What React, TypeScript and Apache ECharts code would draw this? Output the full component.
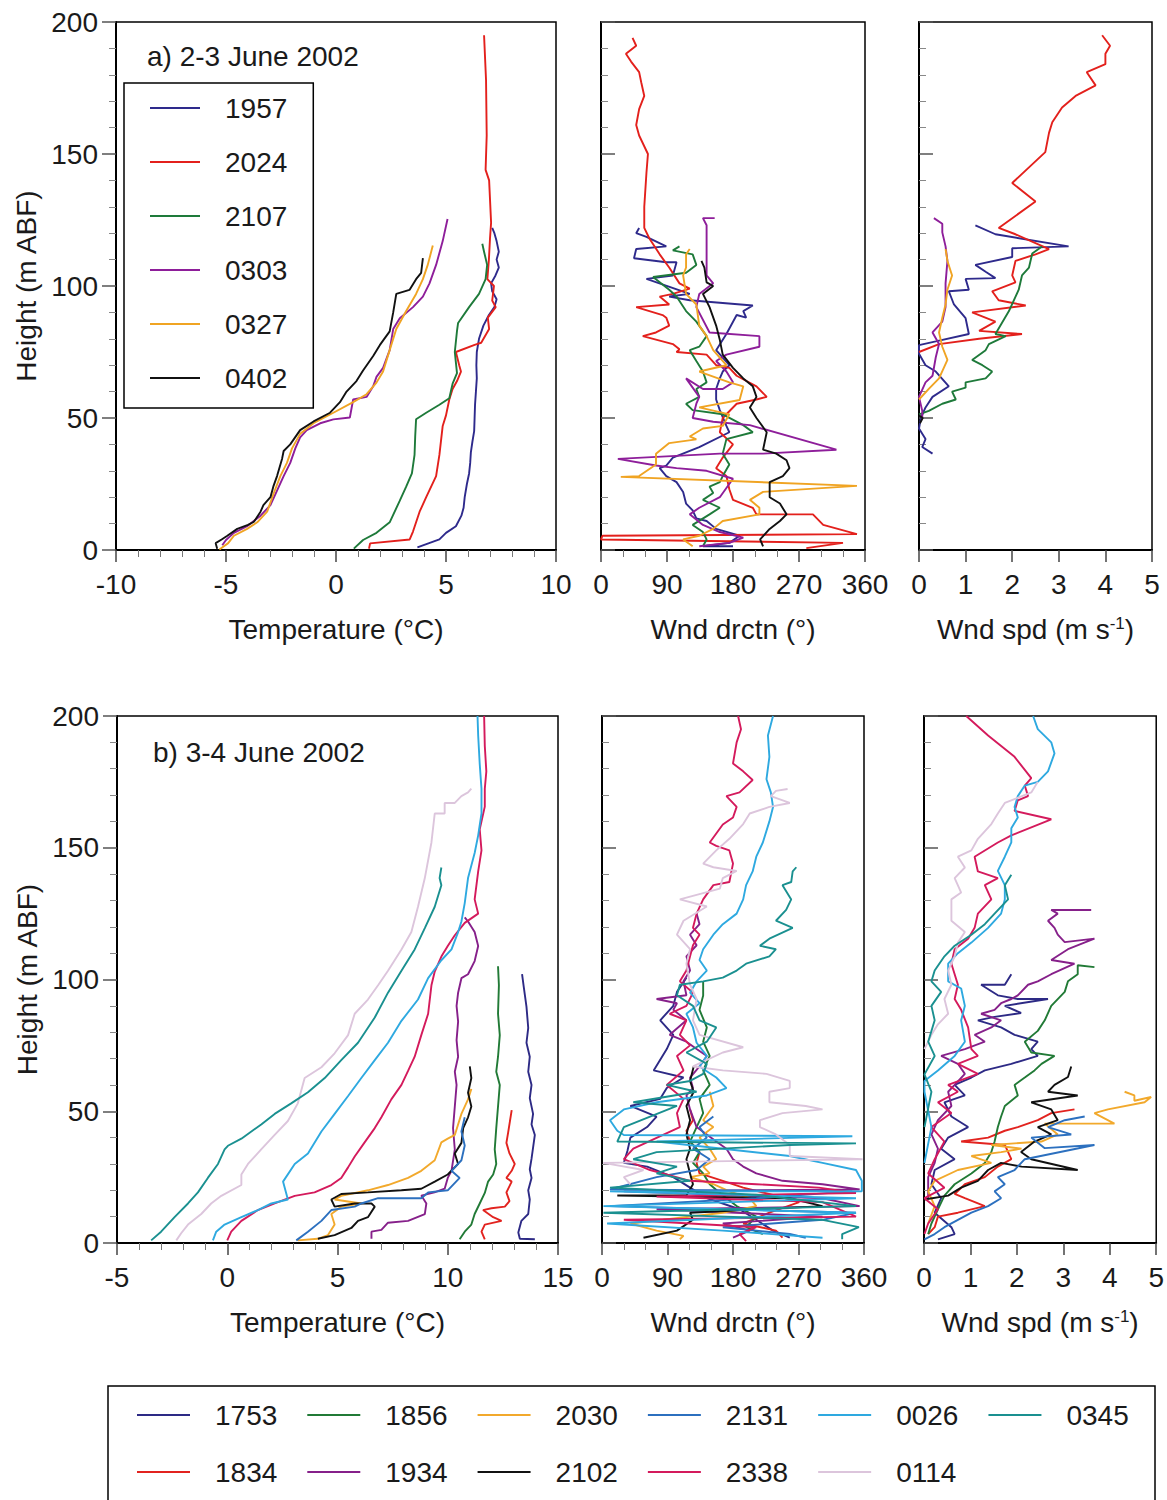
import React, { useEffect, useRef } from "react";
import * as echarts from "echarts";

// ===== a) 2-3 June 2002 : temperature [°C, height m ABF]
const A_TEMP_1957 = [[3.7,1],[4.2,2.5],[4.7,4],[5.0,6.5],[5.45,9],[5.7,13],[5.8,16],[5.85,20],[5.95,25],[6.05,29],[6.1,33],[6.13,37],[6.2,41],[6.28,45],[6.3,50],[6.32,55],[6.36,60],[6.4,65],[6.38,70],[6.4,75],[6.5,80],[6.7,85],[6.95,89],[7.2,92],[7.3,95],[7.1,98],[7.05,101],[7.25,104],[7.4,107],[7.3,110],[7.4,113],[7.3,117],[7.2,120],[7.1,122]];
const A_TEMP_2024 = [[1.5,0.5],[1.55,2.5],[3.35,4],[3.5,7],[3.8,14.5],[4.1,20],[4.55,28],[4.7,36],[4.85,47],[5.0,51],[5.15,57],[5.3,61],[5.5,64],[5.68,67.6],[5.6,70],[5.45,75],[6.3,77.7],[6.6,78.5],[6.96,83.7],[6.9,88],[7.26,92],[7.1,94.5],[7.18,100],[6.88,102.6],[6.95,110],[7.0,118],[7.05,124],[6.96,140],[6.8,144],[6.85,157],[6.82,178],[6.73,195]];
const A_TEMP_2107 = [[0.81,0.5],[1.23,3.8],[1.84,6.5],[2.44,10.5],[2.89,18.5],[3.19,24],[3.45,29],[3.57,36],[3.6,43],[3.64,49.5],[4.1,52],[4.7,55],[5.15,57.5],[5.3,63],[5.5,67],[5.45,71],[5.4,75],[5.5,83],[5.55,86],[6.05,92],[6.5,97],[6.8,102.6],[6.87,108],[6.73,113],[6.65,116]];
const A_TEMP_0303 = [[-5.17,1.8],[-5.0,3.8],[-4.64,6.5],[-4.04,9],[-3.43,13],[-2.98,17],[-2.68,22.5],[-2.38,28],[-2.08,33],[-1.85,38.5],[-1.63,42.7],[-1.33,45.4],[-0.72,48],[-0.12,49.5],[0.63,50.2],[0.78,57],[1.39,58],[1.69,62],[1.84,65.6],[2.14,69],[2.44,75.7],[2.6,83.7],[2.9,87.8],[3.5,92],[3.95,96],[4.25,101],[4.55,108],[4.85,117],[5.07,125.4]];
const A_TEMP_0327 = [[-5.3,0.2],[-4.9,2.6],[-4.64,5.4],[-4.04,8],[-3.58,10.5],[-3.13,14.5],[-2.83,21.5],[-2.53,28],[-2.23,33],[-2.0,38.5],[-1.63,44],[-1.02,48],[-0.12,52],[0.78,56],[1.39,59],[1.84,63.4],[2.14,67.6],[2.44,75.7],[2.74,83.7],[3.19,90.5],[3.64,97],[3.95,102.6],[4.17,108],[4.4,115.3]];
const A_TEMP_0402 = [[-5.4,0.5],[-5.47,2.6],[-5.2,4],[-4.94,5.4],[-4.49,8],[-4.0,9.5],[-3.73,10.7],[-3.43,14.5],[-3.3,17],[-2.98,20],[-2.85,24],[-2.68,28],[-2.45,34.6],[-2.38,37.5],[-2.08,40],[-1.63,45.4],[-1.02,48.7],[-0.27,52],[0.18,56],[0.48,60],[0.93,64],[1.23,68],[1.69,73.5],[1.99,77.6],[2.44,82.8],[2.6,90],[2.74,97],[3.34,98.5],[3.64,102.6],[3.87,105],[3.95,110.6]];

// ===== a) wind direction [°, height]
const A_DIR_1957 = [[52,122],[48,120],[62,118.6],[89,115],[48,114],[45,110.5],[89,109],[103,109],[98,104],[62,102.7],[121,97],[93,96],[121,94.6],[207,92.6],[194,90.5],[198,88],[185,89],[171,81.8],[157,75.7],[175,70],[166,67.6],[162,65],[157,61],[157,57],[162,53],[171,47],[175,44.6],[134,39],[98,35],[89,32],[80,31],[89,28],[103,25.7],[112,22],[116,17.6],[125,15],[130,12],[144,11],[157,8],[189,5.4],[175,2.7],[139,1.4],[180,1.4]];
const A_DIR_2024 = [[43,194],[48,191],[34,188],[41,185],[52,181],[55,177],[59,172],[52,167],[48,161],[52,157],[64,150],[62,143],[59,130],[59,122],[66,118],[80,112],[93,107],[107,101],[121,99],[98,97],[80,96],[93,93],[48,92],[84,89],[89,88],[93,85],[75,82.4],[57,81],[98,78],[107,76],[103,75],[144,74],[157,70],[175,69],[185,66],[212,62],[226,58],[212,57],[185,55.4],[166,50],[162,44.6],[180,40],[166,35],[157,31],[171,28],[175,23],[180,19],[207,16],[212,13.5],[289,13.5],[303,9.5],[349,6],[2,5.4],[0,4],[330,2.7],[280,0.7]];
const A_DIR_2107 = [[107,115],[98,113.5],[125,112],[130,108],[116,105],[71,103.4],[93,98.6],[103,96],[116,90.5],[130,86.5],[144,81],[134,77],[121,75.7],[130,71.6],[139,67.6],[144,63.5],[130,61],[134,58],[116,55.4],[125,53],[166,51.4],[194,47.3],[207,44.6],[171,42],[166,36.5],[175,32.4],[166,28],[162,25.7],[148,24],[153,21.6],[139,19],[162,16],[148,13.5],[125,9.5],[139,6.8],[144,4],[139,1.4]];
const A_DIR_0303 = [[155,125.7],[139,125.7],[144,123],[144,104],[153,101],[134,97],[130,92],[148,82.4],[216,81],[216,77],[171,74],[157,71.6],[171,67.6],[180,63.5],[166,61],[139,61],[116,65],[134,58],[130,55.4],[125,50],[153,48.6],[203,47.3],[321,38],[221,36.5],[162,36.5],[23,34.5],[75,32],[103,31],[144,30],[180,27],[162,20],[134,16],[121,13.5],[139,9.5],[162,6.8],[194,4.7],[175,2.7],[134,1.4]];
const A_DIR_0327 = [[121,114],[116,112],[116,107],[112,104],[116,97],[130,93],[134,85],[144,81],[153,75.7],[171,70],[134,67.6],[175,63.5],[194,62],[189,56.8],[134,54],[175,51.4],[166,47],[139,46],[121,43],[130,41.9],[93,40.5],[75,36.5],[75,32.4],[52,28],[27,27.7],[349,24.3],[221,22],[203,19],[216,16],[216,13.5],[166,11],[153,8],[134,5.4],[112,4],[125,1.4]];
const A_DIR_0402 = [[137,109.5],[141,107],[144,101.4],[153,100],[139,97],[148,92],[157,85],[162,79.6],[166,74],[180,69],[194,65],[207,62],[212,58],[203,54],[212,50],[226,44.6],[221,38],[239,36.5],[253,34],[257,31],[248,28],[230,25.7],[230,20],[244,17.6],[253,13.5],[244,11],[230,8],[217,4],[221,1.4]];

// ===== a) wind speed [m/s, height]
const A_SPD_1957 = [[1.21,123],[1.64,119.6],[3.21,115],[2.0,114.3],[2.0,111],[1.21,108],[1.43,105.4],[1.64,103],[1.0,102.7],[1.07,98.6],[0.64,98],[0.75,93],[1.0,87.8],[1.07,81.8],[0.36,79],[0,77.6],[0,74.3],[0.14,70],[0.36,67.6],[0.64,62],[0.29,58],[0.14,54],[0.04,50],[0,46],[0.14,42],[0.07,39],[0.29,36.5]];
const A_SPD_2024 = [[3.93,195],[4.1,191],[4.0,188],[4.0,184],[3.6,181],[3.79,176],[3.36,172],[3.07,167.6],[2.86,162],[2.79,158],[2.71,150.7],[2.0,139],[2.5,132],[1.71,122],[2.07,119.6],[2.79,114],[2.5,112],[2.07,109.5],[2.0,104],[2.07,101.4],[1.57,98],[1.71,94.6],[2.29,92.6],[1.14,90],[1.64,86.5],[1.29,83],[2.21,81.8],[1.29,80],[0.43,78],[0,75]];
const A_SPD_2107 = [[2.64,115],[2.43,112.3],[2.36,107],[2.21,104],[2.14,98.6],[1.93,90.5],[1.64,81.8],[1.86,81],[1.5,78],[1.43,75.7],[1.14,72],[1.36,70],[1.57,67.6],[1.43,65],[1.0,63.5],[1.0,61.5],[0.71,60],[0.79,57],[0.5,55.4],[0.21,52.7],[0,51.4]];
const A_SPD_0303 = [[0.32,125.7],[0.5,123.6],[0.5,120.3],[0.57,115],[0.61,109.5],[0.57,101],[0.57,92],[0.5,86.5],[0.29,82.4],[0.43,78],[0.36,73],[0.29,66],[0.14,63.5],[0,58],[0.07,52.7],[0.07,50]];
const A_SPD_0327 = [[0.57,114],[0.61,109.5],[0.71,104],[0.61,98.6],[0.57,93],[0.5,88],[0.43,82.4],[0.5,77],[0.61,72],[0.43,65],[0.21,61],[0,57]];
const A_SPD_0402 = [[0,51],[0.08,50],[0.02,48]];

// ===== b) 3-4 June 2002 : temperature
const B_TEMP_1753 = [[13.95,1.4],[13.27,1.6],[13.2,4],[13.34,8.4],[13.65,11],[13.72,16.5],[13.65,20],[13.8,24.7],[13.72,28],[13.8,32],[13.95,41],[13.8,45],[13.87,49],[13.72,55],[13.8,60],[13.65,65],[13.72,70.7],[13.57,76],[13.65,81.6],[13.57,89.7],[13.5,94],[13.45,97],[13.37,102]];
const B_TEMP_1834 = [[11.68,1.4],[11.53,4.3],[11.68,7],[12.44,8.4],[12.06,9.8],[11.6,12.5],[11.98,13.2],[12.59,13.8],[12.8,15.9],[12.66,19.2],[12.9,23.3],[12.66,24.7],[12.9,27.4],[13.04,30],[12.8,34],[12.66,38],[12.74,42],[12.9,50.4]];
const B_TEMP_1856 = [[10.54,1.4],[10.77,4.3],[11.07,7],[11.22,11],[11.45,15],[11.68,19],[11.83,23.3],[12.06,26],[12.2,30],[12.13,35.5],[12.2,43.6],[12.28,51.8],[12.36,60],[12.2,65],[12.28,70.7],[12.36,78.9],[12.28,87],[12.32,97.8],[12.28,105]];
const B_TEMP_1934 = [[6.54,1.6],[6.54,4.3],[6.99,5],[7.29,7.7],[8.2,8.4],[8.96,11],[9.03,15],[8.8,18],[9.4,19.2],[9.86,20.6],[10.0,24.7],[10.17,27.4],[10.32,35.5],[10.24,43.6],[10.32,51.8],[10.4,60],[10.32,65],[10.47,70.7],[10.4,77],[10.47,84],[10.4,90],[10.47,95],[10.62,100.5],[10.92,102],[11.22,107],[11.38,112.7],[11.22,118],[10.92,122],[10.77,123.6]];
const B_TEMP_2030 = [[3.2,1],[4.1,1.6],[4.57,3],[4.87,7],[4.72,11],[5.17,13.8],[6.08,15],[4.87,16.5],[5.17,17.9],[6.38,20],[7.29,22],[8.2,24.7],[8.8,27.4],[9.41,31.4],[9.71,38.2],[10.0,39.6],[10.32,41],[10.62,49],[10.92,54.5],[11.07,58.5]];
const B_TEMP_2102 = [[4.11,1.6],[4.87,3],[5.63,5.7],[5.93,8.4],[6.38,9.8],[6.69,13.8],[6.54,15],[5.78,15],[4.87,13.8],[4.72,16.5],[5.17,18.6],[6.38,19.2],[7.9,20],[8.8,20.6],[9.41,23.3],[10.0,26],[10.47,30],[10.32,34],[10.62,38],[10.7,43.6],[10.92,47.7],[11.07,51.8],[10.92,57],[11.07,62.6],[11.0,67]];
const B_TEMP_2131 = [[3.13,1],[3.66,4.3],[4.27,8.4],[4.72,12.5],[5.78,13.8],[6.08,15],[6.84,17],[8.8,17],[9.11,19.2],[10.0,20],[10.54,24.7],[10.17,27.4],[10.62,31.4],[10.77,37],[10.62,42.3],[10.77,47.7]];
const B_TEMP_2338 = [[0,1],[0.18,4.3],[0.64,8.4],[1.39,12.5],[2.15,15],[3.06,17.9],[3.96,19.2],[4.72,22],[5.17,24.7],[5.48,28.7],[5.78,32.8],[6.23,38.2],[6.69,43.6],[6.99,47.7],[7.44,54.5],[7.9,60],[8.2,65.3],[8.5,70.7],[8.8,78.9],[9.11,87],[9.26,97.8],[9.41,103],[9.71,108.7],[10.0,112.7],[10.32,116.8],[10.77,121.5],[11.38,125],[11.22,130.4],[11.38,141],[11.53,149],[11.45,157],[11.68,165.6],[11.68,172.4],[11.75,179],[11.68,188.6],[11.65,200]];
const B_TEMP_0026 = [[-0.65,1],[-0.5,4.3],[-0.12,7],[0.64,9.8],[1.39,12.5],[2.0,15],[2.75,16.5],[2.53,23.3],[3.06,30],[3.66,34],[4.27,42.3],[4.87,49],[5.48,55.8],[6.08,62.6],[6.69,69.4],[7.29,76],[7.9,84.3],[8.65,92.4],[9.11,100.5],[9.71,107.3],[10.17,111.4],[10.47,118],[10.62,122],[10.77,129],[10.92,138.5],[11.22,148],[11.38,154.7],[11.53,163],[11.53,172.4],[11.45,181.8],[11.38,192.6],[11.35,200]];
const B_TEMP_0114 = [[-2.31,1],[-2.09,3.7],[-1.78,7],[-1.18,11],[-0.73,15],[-0.27,17.9],[0.64,22],[0.64,26],[0.94,30],[1.54,35.5],[2.15,41],[2.75,46.3],[3.2,53],[3.51,62.6],[4.27,66.7],[4.87,72],[5.48,78.9],[5.78,87],[6.38,92.4],[6.84,97.8],[7.29,103.3],[7.9,111.4],[8.35,118],[8.65,127.6],[8.96,138.5],[9.26,152],[9.41,163],[9.86,163],[9.86,167],[10.32,167],[10.62,169.6],[10.92,171],[11.07,172.4]];
const B_TEMP_0345 = [[-3.45,1],[-3.0,4.3],[-2.39,9.8],[-1.78,15],[-1.33,19.2],[-0.88,24.7],[-0.42,30],[-0.12,35.5],[0.03,36.9],[0.64,39.6],[1.54,45],[2.15,49],[2.9,53],[3.66,57.2],[4.42,62.6],[5.17,69.4],[5.93,76],[6.69,85.6],[7.29,95],[7.9,103.3],[8.5,111.4],[8.96,119.5],[9.41,127.6],[9.71,135.8],[9.63,138.5],[9.71,142.5]];

// ===== b) wind direction
const B_DIR_1753 = [[116,100.7],[103,95.3],[98,90],[80,84.5],[98,79],[89,73.6],[71,65.5],[112,62.8],[89,58.8],[80,54.7],[39,52],[75,48],[62,44],[39,40],[35,35],[30,30.4],[62,29],[98,25],[121,21],[144,17],[189,12.8],[212,8.8],[235,4.7],[258,2]];
const B_DIR_1834 = [[121,50.7],[125,46.6],[116,42.6],[121,38.5],[134,34.5],[130,30.4],[134,26.4],[166,23.6],[194,21],[239,18],[271,15.5],[230,11.5],[194,7.4],[239,4.7],[248,2]];
const B_DIR_1856 = [[139,99.3],[139,93.9],[134,88.5],[144,81.8],[139,76.4],[148,71],[139,65.5],[148,60],[134,54.7],[139,49.3],[130,44],[121,38.5],[134,34.5],[125,30.4],[139,26.4],[148,22.3],[166,18],[185,14],[212,10],[198,6],[221,3.4]];
const B_DIR_1934 = [[130,125],[134,121],[121,117],[130,113],[116,108.8],[121,103.4],[112,99.3],[116,94],[75,92.6],[103,91],[98,88.5],[116,84.5],[93,79],[116,76.4],[130,73.6],[144,71],[134,67],[121,62.8],[125,58.8],[116,56],[121,50.7],[130,44],[144,41.2],[157,38.5],[171,35.8],[180,31.8],[194,29],[212,26.4],[248,23.6],[303,22.3],[354,20.3],[30,19.6],[303,17],[354,14],[75,12.8],[303,10],[166,7.4],[203,4.7],[180,2]];
const B_DIR_2030 = [[148,57.4],[153,52],[139,46.6],[153,44],[134,40],[148,35.8],[157,31.8],[139,29],[148,26.4],[121,25],[153,22.3],[175,19.6],[203,17],[212,14],[166,11.5],[84,8.8],[39,7.4],[75,4.7],[112,2.7],[107,1.4]];
const B_DIR_2102 = [[126,67],[121,61.5],[126,57.4],[116,52],[121,46.6],[116,41.2],[121,35.8],[116,31.8],[121,26.4],[125,22.3],[116,18],[21,18],[258,17],[303,14],[121,11.5],[125,8.8],[103,4.7],[57,2]];
const B_DIR_2131 = [[153,48],[134,44],[144,40],[125,35.8],[148,31.8],[130,27.7],[75,25],[11,20.3],[344,19.6],[212,17],[11,14],[349,11.5],[303,8.8],[166,6],[258,3.4],[280,2]];
const B_DIR_2338 = [[187,200],[191,195],[185,190],[180,182],[194,179],[207,175.7],[189,171],[171,169.6],[185,165.5],[180,161.5],[166,158.8],[148,152],[157,150.7],[175,149],[180,144],[175,137],[153,135.8],[139,130.4],[130,125],[125,119.6],[134,117],[125,113],[121,108.8],[116,103.4],[107,99.3],[125,95],[116,90],[93,87],[116,84.5],[107,79],[121,75],[103,71],[112,65.5],[89,60],[112,54.7],[103,49.3],[107,44],[43,35.8],[30,31.8],[66,27.7],[121,23.6],[212,22.3],[298,21],[349,19],[75,17.6],[303,15.5],[349,10],[30,8.8],[212,6],[189,3.4],[198,0.7]];
const B_DIR_0026 = [[235,200],[228,192.6],[230,184.5],[226,176],[232,171],[235,165.5],[230,160],[221,152],[212,146.6],[207,141],[198,135.8],[194,130.4],[185,125],[166,121],[153,117],[139,111.5],[134,107.4],[144,103.4],[130,99.3],[121,95],[134,91],[116,87],[125,81.8],[130,76],[144,71],[134,67],[157,62.8],[171,58.8],[144,56],[75,53.4],[30,50.7],[11,46.6],[21,42.6],[30,41],[344,40.5],[258,39.9],[75,38.5],[258,33],[303,30.4],[349,27.7],[357,23.6],[357,19.6],[11,19.6],[349,17],[2,14],[349,11.5],[7,7.4],[166,4.7],[303,2]];
const B_DIR_0114 = [[255,172.3],[239,171.6],[232,169.6],[258,167],[230,165.5],[203,163],[194,159],[175,153.4],[157,149],[139,144],[153,142.6],[185,141.2],[166,138.5],[162,134.5],[107,130.4],[144,127.7],[112,122.3],[103,117],[121,111.5],[116,106],[121,98],[130,92.6],[125,84.5],[134,79],[194,74.3],[166,72.3],[125,67],[166,65.5],[226,64.2],[258,61.5],[258,58.8],[230,57.4],[230,53.4],[280,52],[303,50.7],[248,49.3],[217,46.6],[217,44],[239,41.2],[258,37.2],[258,33],[358,31.8],[2,30.4],[57,27.7],[30,25],[39,22.3]];
const B_DIR_0345 = [[267,142.6],[262,141],[260,137],[248,135.8],[260,130.4],[253,126.4],[239,122.3],[262,119.6],[230,115.5],[217,112.8],[239,111.5],[230,108.8],[198,106],[185,103.4],[166,100.7],[139,99.3],[107,98],[103,94],[125,90],[134,84.5],[157,81.8],[144,76.4],[116,72.3],[144,68],[139,64.2],[121,61.5],[89,60],[130,57.4],[43,53.4],[103,52],[30,44],[21,38.5],[349,37.8],[258,37.2],[75,34.5],[43,31.8],[103,29],[75,26.4],[121,23.6],[11,21],[212,18.3],[349,14],[2,11.5],[303,8.8],[353,6],[330,3.4],[330,1.4]];

// ===== b) wind speed
const B_SPD_1753 = [[1.88,102],[1.74,98],[1.23,98],[1.59,94],[2.02,92.6],[2.67,92.6],[1.74,90],[2.09,87.3],[1.52,85.8],[1.16,84.5],[1.66,81.8],[1.95,79],[2.45,76.4],[2.31,73.6],[2.45,71],[1.88,68],[1.31,65.5],[1.02,62.8],[0.66,60],[0.88,56],[0.44,53.4],[0.59,48],[0.95,44],[0.52,40],[0.37,35.8],[0.66,31.8],[0.23,27.7],[0.16,22.3],[0.37,17],[0.23,11.5],[0.59,6],[0.66,3.4],[0.3,1.4]];
const B_SPD_1834 = [[3.24,50.7],[2.74,49.3],[2.45,46.6],[2.02,44],[1.74,42.6],[1.38,40],[0.8,38.5],[1.74,37.2],[1.88,31.8],[1.59,29],[1.31,25],[0.88,22.3],[0.66,18.6],[0.88,17],[1.31,14],[0.73,11.5],[0.3,10],[0.23,6],[0.09,3.4]];
const B_SPD_1856 = [[3.67,104.7],[3.31,105.4],[3.31,102],[3.1,99.3],[3.03,95.3],[2.74,90],[2.6,84.5],[2.45,80.5],[2.17,76.4],[2.31,72.3],[2.81,71],[2.53,68],[2.38,65.5],[2.17,62.8],[1.95,60],[2.02,56],[1.74,52],[1.66,48],[1.59,44],[1.52,38.5],[1.45,34.5],[1.31,30.4],[1.02,26.4],[0.66,22.3],[0.44,18],[0.3,12.8],[0.16,7.4],[0.09,3.4]];
const B_SPD_1934 = [[3.6,126.4],[2.74,126.4],[2.88,125],[2.67,122.3],[2.81,119.6],[2.88,117],[3.03,114.2],[3.67,115.5],[3.1,111.5],[2.74,107.4],[3.24,106],[2.74,102],[2.45,99.3],[2.24,98],[2.02,94],[1.88,92.6],[1.66,91],[1.52,88.5],[1.23,87],[1.66,84.5],[1.45,81.8],[1.09,79],[1.31,76.4],[0.88,73.6],[0.37,71],[0.73,68],[0.88,64.2],[0.66,60],[0.52,57.4],[0.59,52],[0.3,46.6],[0.16,41.2],[0.3,35.8],[0.23,30.4],[0.09,25],[0.09,17]];
const B_SPD_2030 = [[4.32,57.4],[4.53,56],[4.53,54],[4.89,55.4],[4.75,53.4],[3.96,50.7],[3.67,49.3],[4.1,45.3],[3.6,45.3],[2.6,45.3],[2.88,41.2],[2.53,38.5],[1.45,37.2],[2.1,35.8],[1.66,34.5],[1.02,33],[1.45,30.4],[0.73,27.7],[0.23,23.6],[0.09,19.6],[0.23,14],[0.09,7.4]];
const B_SPD_2102 = [[3.17,67],[3.1,63],[2.81,60],[2.67,57.4],[3.31,56],[2.31,53.4],[2.74,50.7],[2.88,46.6],[2.45,44],[2.74,41.2],[2.38,38.5],[2.09,34.5],[2.31,31.8],[3.31,27.7],[2.1,29],[1.66,30.4],[1.38,27.7],[1.16,23.6],[0.8,21],[0.52,18],[0.01,16.5]];
const B_SPD_2131 = [[3.46,48],[3.03,46.6],[2.67,44],[3.17,41.2],[2.31,40],[2.6,36],[3.67,37.2],[2.17,31.8],[1.95,27.7],[1.59,25],[1.74,22.3],[1.52,19.6],[1.66,17],[1.38,14],[1.02,11.5],[0.73,8.8],[0.44,6],[0.23,3.4],[0.01,1.4]];
const B_SPD_2338 = [[0.91,200],[1.38,192.6],[1.95,184.5],[2.31,176.4],[2.17,173.6],[2.24,169.6],[2.02,168],[1.95,164],[2.74,160.8],[1.88,154.7],[1.59,152],[1.09,146.6],[1.16,141],[1.59,138.5],[1.31,135.8],[1.45,130.4],[1.16,125],[1.09,119.6],[0.95,115.5],[0.66,111.5],[0.59,106],[0.73,98],[0.66,92.6],[0.8,88.5],[0.95,81.8],[1.02,73.6],[1.16,71],[0.73,68],[1.16,64.2],[0.52,60],[0.73,57.4],[0.3,53.4],[0.59,49.3],[0.16,44],[0.44,38.5],[0.23,31.8],[0.09,26.4],[0.44,21],[0.01,17],[0.3,12.8],[0.09,7.4],[0.01,3.4]];
const B_SPD_0026 = [[2.35,200],[2.45,195],[2.74,190],[2.81,185.8],[2.67,179],[2.45,175],[2.17,173.6],[2.02,169.6],[1.95,165.5],[2.02,161.5],[1.88,157.4],[1.88,152],[1.74,146.6],[1.59,141.2],[1.74,135.8],[1.74,130.4],[1.66,125],[1.38,119.6],[1.02,114],[0.73,110],[0.52,106],[0.52,99.3],[0.8,96.6],[0.88,90],[0.8,84.5],[0.88,76.4],[0.66,71],[0.3,65.5],[0.01,61.5],[0.01,57.4],[0.16,44],[0.01,30.4]];
const B_SPD_0114 = [[2.45,175],[2.31,171],[1.74,167],[1.59,163],[1.45,159],[1.16,153.4],[1.02,149],[0.73,146.6],[0.88,142.5],[0.66,138.5],[0.8,133],[0.59,130.4],[0.59,122.3],[0.88,118],[0.73,114],[0.66,108.8],[0.52,103.4],[0.59,98],[0.44,92.6],[0.52,87],[0.3,83],[0.16,79],[0.01,73.6]];
const B_SPD_0345 = [[1.88,139.8],[1.74,135.8],[1.81,130.4],[1.52,125],[1.31,121],[1.02,117],[0.66,112.8],[0.44,108.8],[0.23,103.4],[0.16,99.3],[0.37,95.3],[0.16,90],[0.23,84.5],[0.09,76.4],[0.23,71],[0.01,64],[0.16,57.4],[0.01,44]];

// ===== names (legend order)
const A_NAMES = ["1957", "2024", "2107", "0303", "0327", "0402"];
const A_TEMP = [A_TEMP_1957, A_TEMP_2024, A_TEMP_2107, A_TEMP_0303, A_TEMP_0327, A_TEMP_0402];
const A_DIR = [A_DIR_1957, A_DIR_2024, A_DIR_2107, A_DIR_0303, A_DIR_0327, A_DIR_0402];
const A_SPD = [A_SPD_1957, A_SPD_2024, A_SPD_2107, A_SPD_0303, A_SPD_0327, A_SPD_0402];

const B_NAMES = ["1753", "1834", "1856", "1934", "2030", "2102", "2131", "2338", "0026", "0114", "0345"];
const B_TEMP = [B_TEMP_1753, B_TEMP_1834, B_TEMP_1856, B_TEMP_1934, B_TEMP_2030, B_TEMP_2102, B_TEMP_2131, B_TEMP_2338, B_TEMP_0026, B_TEMP_0114, B_TEMP_0345];
const B_DIR = [B_DIR_1753, B_DIR_1834, B_DIR_1856, B_DIR_1934, B_DIR_2030, B_DIR_2102, B_DIR_2131, B_DIR_2338, B_DIR_0026, B_DIR_0114, B_DIR_0345];
const B_SPD = [B_SPD_1753, B_SPD_1834, B_SPD_1856, B_SPD_1934, B_SPD_2030, B_SPD_2102, B_SPD_2131, B_SPD_2338, B_SPD_0026, B_SPD_0114, B_SPD_0345];
const B_LEGEND_ROW1 = ["1753", "1856", "2030", "2131", "0026", "0345"];
const B_LEGEND_ROW2 = ["1834", "1934", "2102", "2338", "0114"];

const TITLES = ["a) 2-3 June 2002", "b) 3-4 June 2002"];

// ===== styles
const A_COLORS = ["#2e2a8c", "#e3201c", "#1e7a3a", "#8e1e9a", "#f0a423", "#111111"];
const B_COLORS = ["#2d2a85", "#e2231f", "#217a36", "#86208a", "#f2a92c", "#111111", "#2c70bf", "#d41a5c", "#2ea9e0", "#dcc5dc", "#1a9090"];
const FONT = "'Liberation Sans', Arial, Helvetica, sans-serif";
const TXT = "#1a1a1a";

const GRIDS = [
  { left: 116, top: 22, width: 440, height: 528 },
  { left: 601, top: 22, width: 264, height: 528 },
  { left: 919, top: 22, width: 233, height: 528 },
  { left: 117, top: 716, width: 441, height: 527 },
  { left: 602, top: 716, width: 262, height: 527 },
  { left: 924, top: 716, width: 233, height: 527 },
];

function xAxis(p: number, min: number, max: number, interval: number, minorSplit: number, name: string) {
  return {
    type: "value", gridIndex: p, min, max, interval,
    axisLine: { show: true, onZero: false, lineStyle: { color: "#000", width: 2 } },
    axisTick: { show: true, length: 12, lineStyle: { color: "#444", width: 1.5 } },
    minorTick: { show: minorSplit > 0, splitNumber: minorSplit || 5, length: 7, lineStyle: { color: "#777", width: 1 } },
    splitLine: { show: false },
    axisLabel: { fontSize: 28, color: TXT, fontFamily: FONT, margin: 20, showMinLabel: true, showMaxLabel: true, hideOverlap: false },
    name, nameLocation: "middle", nameGap: 65,
    nameTextStyle: { fontSize: 28, color: TXT, fontFamily: FONT, rich: { sup: { fontSize: 17, color: TXT, fontFamily: FONT, verticalAlign: "top" } } },
  };
}

function yAxis(p: number, labels: boolean) {
  return {
    type: "value", gridIndex: p, min: 0, max: 200, interval: 50,
    axisLine: { show: true, onZero: false, lineStyle: { color: "#000", width: 2 } },
    axisTick: { show: true, inside: !labels, length: 14, lineStyle: { color: "#555", width: 1.5 } },
    minorTick: { show: true, splitNumber: 5, length: 7, lineStyle: { color: "#888", width: 1 } },
    splitLine: { show: false },
    axisLabel: { show: labels, fontSize: 28, color: TXT, fontFamily: FONT, margin: 18 },
    name: labels ? "Height (m ABF)" : "", nameLocation: "middle", nameGap: 76,
    nameTextStyle: { fontSize: 28, color: TXT, fontFamily: FONT },
  };
}

function line(name: string, data: number[][], color: string, p: number) {
  return {
    type: "line", name, data, xAxisIndex: p, yAxisIndex: p,
    symbol: "none", showSymbol: false, silent: true, clip: true,
    lineStyle: { color, width: 1.9 }, itemStyle: { color },
    emphasis: { disabled: true },
  };
}

export default function App() {
  const ref = useRef<HTMLDivElement>(null);
  useEffect(() => {
    if (!ref.current) return;
    const chart = echarts.init(ref.current, undefined, { renderer: "svg" });
    const series: any[] = [];
    A_NAMES.forEach((n, i) => {
      series.push(line(n, A_TEMP[i], A_COLORS[i], 0));
      series.push(line(n, A_DIR[i], A_COLORS[i], 1));
      series.push(line(n, A_SPD[i], A_COLORS[i], 2));
    });
    B_NAMES.forEach((n, i) => {
      series.push(line(n, B_TEMP[i], B_COLORS[i], 3));
      series.push(line(n, B_DIR[i], B_COLORS[i], 4));
      series.push(line(n, B_SPD[i], B_COLORS[i], 5));
    });
    const legendText = { fontSize: 28, color: TXT, fontFamily: FONT, padding: [0, 0, 0, 20] };
    const spd = "Wnd spd (m s{sup|-1})";
    chart.setOption({
      animation: false,
      backgroundColor: "#fff",
      title: [
        { text: TITLES[0], left: 147, top: 42, padding: 0, textStyle: { fontSize: 28, fontWeight: "normal", color: TXT, fontFamily: FONT } },
        { text: TITLES[1], left: 153, top: 738, padding: 0, textStyle: { fontSize: 28, fontWeight: "normal", color: TXT, fontFamily: FONT } },
      ],
      grid: GRIDS.map((g) => ({ ...g, show: true, borderColor: "#000", borderWidth: 1.5, backgroundColor: "transparent" })),
      xAxis: [
        xAxis(0, -10, 10, 5, 5, "Temperature (°C)"),
        xAxis(1, 0, 360, 90, 3, "Wnd drctn (°)"),
        xAxis(2, 0, 5, 1, 0, spd),
        xAxis(3, -5, 15, 5, 5, "Temperature (°C)"),
        xAxis(4, 0, 360, 90, 3, "Wnd drctn (°)"),
        xAxis(5, 0, 5, 1, 0, spd),
      ],
      yAxis: [yAxis(0, true), yAxis(1, false), yAxis(2, false), yAxis(3, true), yAxis(4, false), yAxis(5, false)],
      legend: [
        {
          data: A_NAMES, orient: "vertical", left: 124, top: 83, selectedMode: false, icon: "rect",
          padding: [11, 26, 16, 26], itemWidth: 50, itemHeight: 2, itemGap: 26,
          borderColor: "#000", borderWidth: 1.5, textStyle: legendText,
        },
        {
          data: B_LEGEND_ROW1, orient: "horizontal", left: 137, top: 1401, selectedMode: false, icon: "rect",
          padding: 0, itemWidth: 53, itemHeight: 2, itemGap: 30, textStyle: legendText,
        },
        {
          data: B_LEGEND_ROW2, orient: "horizontal", left: 137, top: 1458, selectedMode: false, icon: "rect",
          padding: 0, itemWidth: 53, itemHeight: 2, itemGap: 30, textStyle: legendText,
        },
      ],
      graphic: [
        { type: "rect", shape: { x: 108, y: 1386, width: 1047, height: 140 }, style: { fill: "none", stroke: "#000", lineWidth: 1.5 }, silent: true },
      ],
      series,
    });
    return () => chart.dispose();
  }, []);
  return <div ref={ref} style={{ position: "absolute", left: 0, top: 0, width: 1167, height: 1500 }} />;
}
